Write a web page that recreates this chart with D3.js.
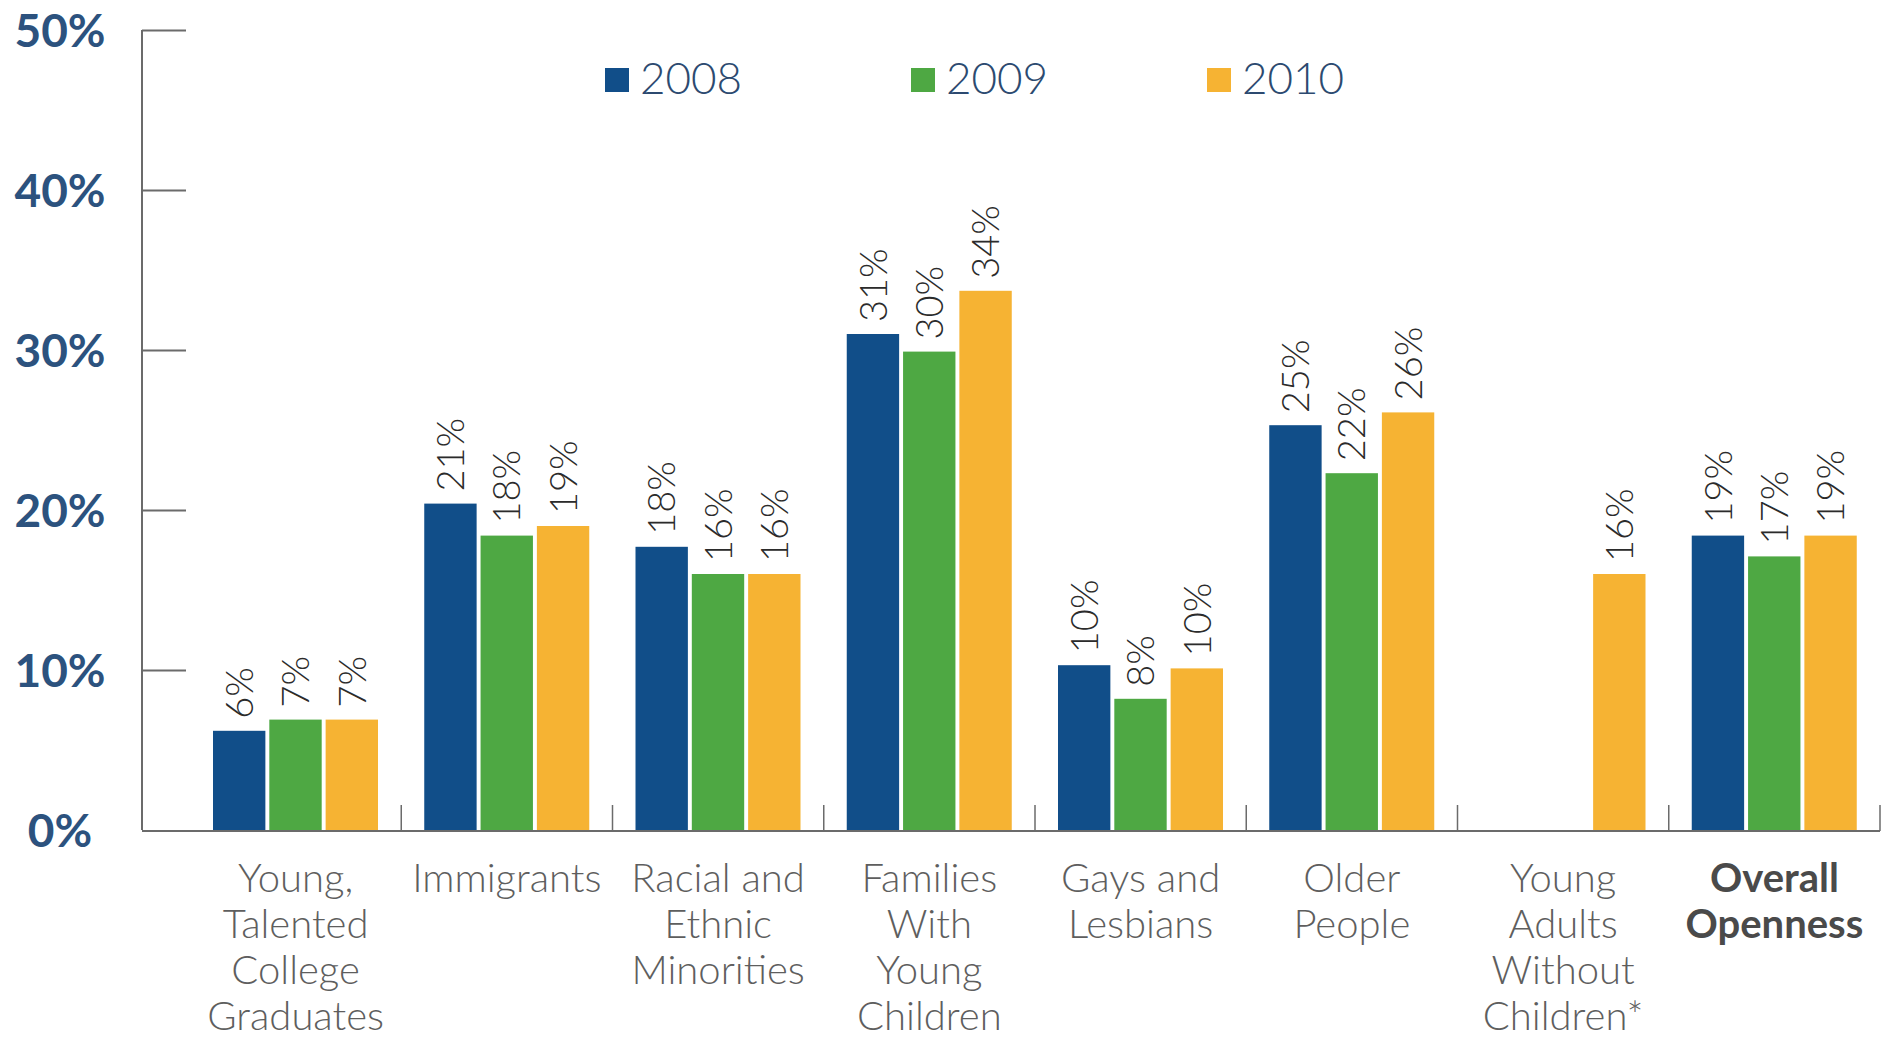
<!DOCTYPE html>
<html>
<head>
<meta charset="utf-8">
<script src="https://cdn.jsdelivr.net/npm/d3@7"></script>
<style>
  html, body { margin: 0; padding: 0; background: #fff; }
  svg { display: block; }
</style>
</head>
<body>
<svg id="chart" width="1887" height="1045"></svg>
<script>
// ---- data ----
const categories = [
  ["Young,", "Talented", "College", "Graduates"],
  ["Immigrants"],
  ["Racial and", "Ethnic", "Minorities"],
  ["Families", "With", "Young", "Children"],
  ["Gays and", "Lesbians"],
  ["Older", "People"],
  ["Young", "Adults", "Without", "Children*"],
  ["Overall", "Openness"]
];
const seriesNames = ["2008", "2009", "2010"];
const values2008 = [6.2, 20.4, 17.7, 31.0, 10.3, 25.3, null, 18.4];
const values2009 = [6.9, 18.4, 16.0, 29.9, 8.2, 22.3, null, 17.1];
const values2010 = [6.9, 19.0, 16.0, 33.7, 10.1, 26.1, 16.0, 18.4];
const labels2008 = ["6%", "21%", "18%", "31%", "10%", "25%", null, "19%"];
const labels2009 = ["7%", "18%", "16%", "30%", "8%", "22%", null, "17%"];
const labels2010 = ["7%", "19%", "16%", "34%", "10%", "26%", "16%", "19%"];
const yTicks = [0, 10, 20, 30, 40, 50];
const colors = ["#114e89", "#4ea843", "#f6b333"];

const seriesValues = [values2008, values2009, values2010];
const seriesLabels = [labels2008, labels2009, labels2010];

// ---- layout ----
const svg = d3.select("#chart");
const catIdx = categories.map((c, i) => i);

const x0 = d3.scaleBand().domain(catIdx).range([190, 1880]).paddingInner(0).paddingOuter(0);
const x1 = d3.scaleBand().domain(seriesNames).range([23, 188]).paddingInner(0.07);
const y = d3.scaleLinear().domain([0, 50]).range([830, 30]);

const axisColor = "#6b6b6b";

// y axis line + ticks (inward)
const yAxisG = svg.append("g").attr("transform", "translate(142,0)");
yAxisG.call(d3.axisRight(y).tickValues(yTicks).tickSize(44).tickFormat(""))
  .call(g => g.select(".domain").attr("stroke", axisColor).attr("stroke-width", 2).attr("d", `M0,${y(50)}V${y(0)}`))
  .call(g => g.selectAll(".tick line").attr("stroke", axisColor).attr("stroke-width", 2));
yAxisG.selectAll(".tick").filter(d => d === 0).remove();

// y labels
svg.append("g").selectAll("text").data(yTicks).join("text")
  .attr("x", 60).attr("y", d => y(d)).attr("dy", "0.36em")
  .attr("text-anchor", "middle")
  .attr("font-family", "Lato, 'Open Sans', sans-serif")
  .attr("font-weight", 700)
  .attr("font-size", 46)
  .attr("fill", "#2c527e")
  .text(d => d + "%");

// bars
const groups = svg.append("g").selectAll("g").data(catIdx).join("g")
  .attr("transform", i => `translate(${x0(i)},0)`);

const rowsFor = i => seriesNames
  .map((s, k) => ({ s, k, v: seriesValues[k][i], lab: seriesLabels[k][i] }))
  .filter(d => d.v != null);

groups.selectAll("rect")
  .data(rowsFor)
  .join("rect")
  .attr("x", d => x1(d.s))
  .attr("width", x1.bandwidth())
  .attr("y", d => y(d.v))
  .attr("height", d => y(0) - y(d.v))
  .attr("fill", d => colors[d.k]);

groups.selectAll("text.val")
  .data(rowsFor)
  .join("text")
  .attr("class", "val")
  .attr("transform", d => `translate(${x1(d.s) + x1.bandwidth() / 2},${y(d.v) - 12}) rotate(-90)`)
  .attr("dy", "0.36em")
  .attr("text-anchor", "start")
  .attr("font-family", "Lato, 'Open Sans', sans-serif")
  .attr("font-weight", 300)
  .attr("font-size", 38)
  .attr("fill", "#2b2b2b")
  .text(d => d.lab);

// baseline
svg.append("line")
  .attr("x1", 142).attr("x2", 1880)
  .attr("y1", y(0) + 1).attr("y2", y(0) + 1)
  .attr("stroke", axisColor).attr("stroke-width", 2);

// category separators
svg.append("g").selectAll("line").data(catIdx).join("line")
  .attr("x1", i => x0(i) + x0.bandwidth()).attr("x2", i => x0(i) + x0.bandwidth())
  .attr("y1", y(0) + 1).attr("y2", y(0) - 25)
  .attr("stroke", axisColor).attr("stroke-width", 1.5);

// x labels
const xl = svg.append("g").selectAll("text").data(catIdx).join("text")
  .attr("x", i => x0(i) + x0.bandwidth() / 2)
  .attr("y", 892)
  .attr("text-anchor", "middle")
  .attr("font-family", "Lato, 'Open Sans', sans-serif")
  .attr("font-size", 40)
  .attr("font-weight", i => i === categories.length - 1 ? 700 : 300)
  .attr("fill", i => i === categories.length - 1 ? "#4a4a4a" : "#5e5e5e");
xl.selectAll("tspan").data(i => categories[i]).join("tspan")
  .attr("x", function() { return d3.select(this.parentNode).attr("x"); })
  .attr("dy", (d, j) => j === 0 ? 0 : 46)
  .text(d => d);

// legend
const legendX = [605, 911, 1207];
const lg = svg.append("g").selectAll("g").data(seriesNames).join("g")
  .attr("transform", (d, i) => `translate(${legendX[i]},68)`);
lg.append("rect").attr("width", 24).attr("height", 24).attr("fill", (d, i) => colors[i]);
lg.append("text").attr("x", 35).attr("y", 26)
  .attr("font-family", "Lato, 'Open Sans', sans-serif")
  .attr("font-weight", 300)
  .attr("font-size", 44)
  .attr("fill", "#2c4a70")
  .text(d => d);
</script>
</body>
</html>
